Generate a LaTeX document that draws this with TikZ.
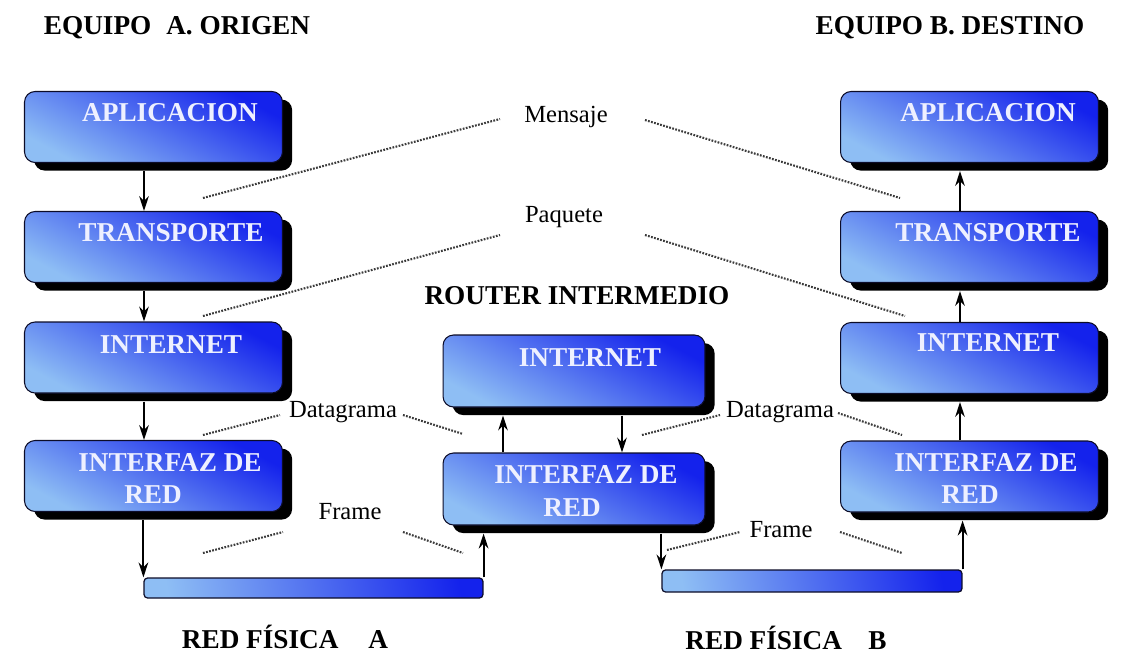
\documentclass[tikz,border=0pt]{standalone}
\usepackage{fontspec}
\setmainfont{Liberation Serif}
\newfontfamily\tnr{Liberation Serif}
\usetikzlibrary{shadows,calc,arrows.meta}
\definecolor{blight}{HTML}{8EBEF4}
\definecolor{bdark}{HTML}{1422EC}
\definecolor{bedge}{HTML}{0C0C28}
\definecolor{txtw}{HTML}{EEF0FF}
\definecolor{dotc}{HTML}{3C3C3C}
\tikzset{
  layer/.style={draw=bedge, line width=0.6pt, rounded corners=6pt,
    minimum width=5.16cm, minimum height=1.42cm, inner sep=0pt,
    shading=axis, bottom color=blight, top color=bdark, shading angle=-28,
    drop shadow={shadow xshift=5.5pt, shadow yshift=-4.6pt, fill=black, opacity=1}},
  bar/.style={draw=bedge, line width=0.7pt, rounded corners=2pt, inner sep=0pt,
    shading=axis, bottom color=blight, top color=bdark, shading angle=-80},
  ltext/.style={text=txtw, font=\tnr\bfseries\fontsize{15.5}{17}\selectfont, inner sep=0pt},
  title/.style={font=\tnr\bfseries\fontsize{15.5}{17}\selectfont, inner sep=0pt},
  lab/.style={font=\tnr\fontsize{14}{16}\selectfont, inner sep=0pt},
  arr/.style={-{Stealth[length=8.5pt,width=5.5pt]}, line width=1.1pt, black},
  dots/.style={dotc, line width=1.2pt, dash pattern=on 1pt off 0.8pt},
}
\begin{document}
\begin{tikzpicture}[x=0.02cm, y=-0.02cm]
\useasboundingbox (0,0) rectangle (1133,664);
% titles
\node[title] (tA) at (177,28) {EQUIPO\hspace{0.55em}A. ORIGEN};
\node[title] (tB) at (950,28) {EQUIPO B. DESTINO};
\node[title] (tR) at (577,296) {ROUTER INTERMEDIO};
\node[title] (fA) at (285,637) {RED FÍSICA\hspace{17pt}A};
\node[title] (fB) at (786,638) {RED FÍSICA\hspace{15pt}B};
% left column
\node[layer] (l1) at (153.5,127) {};
\node[layer] (l2) at (153.5,247) {};
\node[layer] (l3) at (153.5,357.5) {};
\node[layer] (l4) at (153.5,476) {};
\node[ltext] (l1t) at (170,113) {APLICACION};
\node[ltext] (l2t) at (171,233) {TRANSPORTE};
\node[ltext] (l3t) at (171,345) {INTERNET};
\node[ltext] (l4t) at (170,463) {INTERFAZ DE};
\node[ltext] (l4u) at (153,495) {RED};
% right column
\node[layer] (r1) at (969.5,127) {};
\node[layer] (r2) at (969.5,247) {};
\node[layer] (r3) at (969.5,358) {};
\node[layer] (r4) at (969.5,476.5) {};
\node[ltext] (r1t) at (988,113) {APLICACION};
\node[ltext] (r2t) at (988,233) {TRANSPORTE};
\node[ltext] (r3t) at (988,343) {INTERNET};
\node[ltext] (r4t) at (986,463) {INTERFAZ DE};
\node[ltext] (r4u) at (970,495) {RED};
% router
\node[layer, minimum width=5.24cm, minimum height=1.44cm] (m1) at (574,371) {};
\node[layer, minimum width=5.24cm, minimum height=1.44cm] (m2) at (574,489) {};
\node[ltext] (m1t) at (590,358) {INTERNET};
\node[ltext] (m2t) at (586,475) {INTERFAZ DE};
\node[ltext] (m2u) at (572,508) {RED};
% physical networks
\node[bar, minimum width=6.78cm, minimum height=0.40cm] (pa) at (313.5,588) {};
\node[bar, minimum width=6.00cm, minimum height=0.44cm] (pb) at (812,581) {};
% arrows left column (down)
\draw[arr] ($(l1.south)+(-9.5,8)$) -- ($(l2.north)+(-9.5,0)$);
\draw[arr] ($(l2.south)+(-9.5,8)$) -- ($(l3.north)+(-9.5,0)$);
\draw[arr] ($(l3.south)+(-9.5,8)$) -- ($(l4.north)+(-9.5,0)$);
\draw[arr] ($(l4.south -| pa.north west)+(0,8)$) -- (pa.north west);
% arrows right column (up)
\draw[arr] ($(r2.north)+(-9.5,0)$) -- ($(r1.south)+(-9.5,8)$);
\draw[arr] ($(r3.north)+(-9.5,0)$) -- ($(r2.south)+(-9.5,8)$);
\draw[arr] ($(r4.north)+(-9.5,0)$) -- ($(r3.south)+(-9.5,8)$);
\draw[arr] (pb.north east) -- ($(r4.south -| pb.north east)+(0,8)$);
% router arrows
\draw[arr] ($(m2.north)+(-71,0)$) -- ($(m1.south)+(-71,8)$);
\draw[arr] ($(m1.south)+(48,8)$) -- ($(m2.north)+(48,0)$);
\draw[arr] (pa.north east) -- ($(m2.south -| pa.north east)+(0,8)$);
\draw[arr] ($(m2.south -| pb.north west)+(0,8)$) -- (pb.north west);
% labels
\node[lab] (ms) at (566,117) {Mensaje};
\node[lab] (pq) at (564,217) {Paquete};
\node[lab] (dl) at (343,412) {Datagrama};
\node[lab] (dr) at (780,412) {Datagrama};
\node[lab] (frl) at (350,512) {Frame};
\node[lab] (frr) at (781,530) {Frame};
% dotted connector ends
\coordinate (ms1) at (203,198); \coordinate (ms2) at (500,119);
\coordinate (ms3) at (645,120); \coordinate (ms4) at (900,198);
\coordinate (pq1) at (203,316); \coordinate (pq2) at (500,235);
\coordinate (pq3) at (645,235); \coordinate (pq4) at (905,316);
\coordinate (dl1) at (203,435); \coordinate (dl2) at (280,415);
\coordinate (dl3) at (403,415); \coordinate (dl4) at (463,434);
\coordinate (dr1) at (642,435); \coordinate (dr2) at (720,415);
\coordinate (dr3) at (838,413); \coordinate (dr4) at (902,435);
\coordinate (fl1) at (203,553); \coordinate (fl2) at (283,532);
\coordinate (fl3) at (403,532); \coordinate (fl4) at (463,553);
\coordinate (fr1) at (667,550); \coordinate (fr2) at (740,532);
\coordinate (fr3) at (840,532); \coordinate (fr4) at (902,553);
\draw[dots] (ms1) -- (ms2); \draw[dots] (ms3) -- (ms4);
\draw[dots] (pq1) -- (pq2); \draw[dots] (pq3) -- (pq4);
\draw[dots] (dl1) -- (dl2); \draw[dots] (dl3) -- (dl4);
\draw[dots] (dr1) -- (dr2); \draw[dots] (dr3) -- (dr4);
\draw[dots] (fl1) -- (fl2); \draw[dots] (fl3) -- (fl4);
\draw[dots] (fr1) -- (fr2); \draw[dots] (fr3) -- (fr4);
\end{tikzpicture}
\end{document}
